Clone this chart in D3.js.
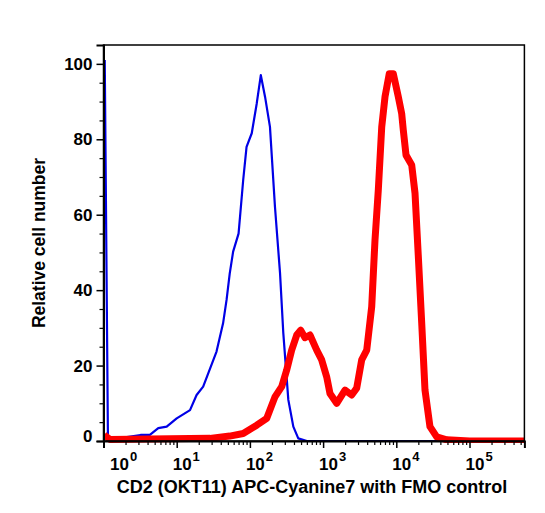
<!DOCTYPE html>
<html>
<head>
<meta charset="utf-8">
<script src="https://cdn.jsdelivr.net/npm/d3@7"></script>
<style>
body { margin: 0; background: #fff; }
svg text { font-family: "Liberation Sans", Arial, sans-serif; font-weight: bold; fill: #000; }
</style>
</head>
<body>
<div class="chart"></div>
<script>
var width = 545;
var height = 513;

// FMO control (blue), fluorescence intensity vs relative count
var fmoX = [1.04, 1.15, 1.68, 3.2, 4.3, 5.6, 7.3, 10, 15.2, 18.7, 23, 35, 43, 48, 53, 59, 70, 81, 90, 106, 124, 141, 161, 188, 220, 258, 286, 335, 392, 458, 600, 1000, 10000, 100000, 562000];
var fmoY = [101, 0.7, 0.8, 1.6, 1.6, 3.4, 3.8, 6.0, 8.2, 12.2, 14.4, 23.7, 31.2, 37.4, 44.4, 50.2, 55.0, 69.2, 78.0, 81.6, 89.5, 97.0, 91.3, 83.3, 62.1, 44.5, 28.6, 10.9, 3.8, 0.7, 0, 0, 0, 0, 0];

// CD2 stained sample (red)
var cd2X = [1.02, 1.23, 28.5, 53, 81, 124, 170, 220, 272, 318, 372, 436, 494, 566, 662, 818, 957, 1120, 1242, 1534, 1992, 2459, 2878, 3367, 3944, 4613, 5117, 5675, 6324, 7015, 8020, 9100, 10650, 11850, 12470, 13580, 16230, 18020, 20000, 22250, 24660, 28840, 35650, 48860, 100000, 562000];
var cd2Y = [1.6, 0.4, 0.7, 1.3, 2.0, 4.2, 6.0, 11.7, 14.4, 18.8, 24.1, 28.1, 29.4, 27.4, 28.1, 24.1, 21.5, 17.0, 12.6, 10.0, 13.5, 12.2, 14.0, 21.5, 24.1, 35.6, 53.3, 66.5, 83.3, 91.3, 97.4, 97.4, 91.3, 86.8, 82.4, 75.8, 73.2, 65.7, 48.9, 31.2, 13.5, 3.8, 1.1, 0.3, 0, 0];

var yTicks = [0, 20, 40, 60, 80, 100];
var yMinor = [5, 10, 15, 25, 30, 35, 45, 50, 55, 65, 70, 75, 85, 90, 95];
var xTicks = [1, 10, 100, 1000, 10000, 100000];
var xExp = ["0", "1", "2", "3", "4", "5"];

var xTitle = "CD2 (OKT11) APC-Cyanine7 with FMO control";
var yTitle = "Relative cell number";

var svg = d3.select(".chart").append("svg")
  .attr("width", width)
  .attr("height", height)
  .style("display", "block");

var x = d3.scaleLog()
  .domain([1, Math.pow(10, 5.75)])
  .range([103.5, 524.4]);

var y = d3.scaleLinear()
  .domain([0, 105])
  .range([441, 45]);

var xMinor = [];
for (var e = 0; e < 6; e++) {
  for (var m = 2; m < 10; m++) {
    var v = m * Math.pow(10, e);
    if (v < x.domain()[1]) xMinor.push(v);
  }
}

svg.append("clipPath").attr("id", "plot-clip")
  .append("rect")
  .attr("x", x.range()[0])
  .attr("y", y.range()[1])
  .attr("width", x.range()[1] - x.range()[0])
  .attr("height", 443 - y.range()[1]);

var line = d3.line()
  .x(function(d) { return x(d[0]); })
  .y(function(d) { return y(d[1]); });

var plot = svg.append("g").attr("clip-path", "url(#plot-clip)");

plot.append("path")
  .datum(d3.zip(fmoX, fmoY))
  .attr("fill", "none")
  .attr("stroke", "#0000e6")
  .attr("stroke-width", 2.2)
  .attr("stroke-linejoin", "round")
  .attr("d", line);

plot.append("path")
  .datum(d3.zip(cd2X, cd2Y))
  .attr("fill", "none")
  .attr("stroke", "#ff0000")
  .attr("stroke-width", 7)
  .attr("stroke-linejoin", "round")
  .attr("d", line);

// frame (top + right)
svg.append("rect")
  .attr("x", x.range()[0])
  .attr("y", y.range()[1])
  .attr("width", x.range()[1] - x.range()[0])
  .attr("height", y.range()[0] - y.range()[1])
  .attr("fill", "none")
  .attr("stroke", "#000")
  .attr("stroke-width", 1.5);

// y axis
var yAxis = svg.append("g")
  .attr("transform", "translate(" + x.range()[0] + ",0)")
  .call(d3.axisLeft(y).tickValues(yTicks).tickSize(7).tickPadding(4));
yAxis.select(".domain").attr("stroke-width", 2);
yAxis.selectAll(".tick line").attr("stroke-width", 1.5);
yAxis.selectAll("text")
  .style("font-size", "17px")
  .attr("dy", function(d) { return d === 0 ? "0.05em" : "0.32em"; });

svg.append("g")
  .attr("transform", "translate(" + x.range()[0] + ",0)")
  .call(d3.axisLeft(y).tickValues(yMinor).tickSize(4).tickFormat(""))
  .call(function(g) { g.select(".domain").remove(); })
  .selectAll(".tick line").attr("stroke-width", 1.2);

// x axis
var xAxis = svg.append("g")
  .attr("transform", "translate(0," + y.range()[0] + ")")
  .call(d3.axisBottom(x).tickValues(xTicks).tickSize(7).tickFormat(""));
xAxis.select(".domain").attr("stroke-width", 2);
xAxis.selectAll(".tick line").attr("stroke-width", 1.5);

svg.append("g")
  .attr("transform", "translate(0," + y.range()[0] + ")")
  .call(d3.axisBottom(x).tickValues(xMinor).tickSize(4).tickFormat(""))
  .call(function(g) { g.select(".domain").remove(); })
  .selectAll(".tick line").attr("stroke-width", 1.2);

var xl = svg.append("g").selectAll("text")
  .data(xTicks)
  .enter().append("text")
  .attr("x", function(d) { return Math.max(x(d) - 4, 110); })
  .attr("y", 470)
  .style("font-size", "17px");
xl.append("tspan").text("10");
xl.append("tspan")
  .attr("dx", 1)
  .attr("dy", -9)
  .style("font-size", "13px")
  .text(function(d, i) { return xExp[i]; });

svg.append("text")
  .attr("x", 312)
  .attr("y", 493)
  .attr("text-anchor", "middle")
  .style("font-size", "18px")
  .text(xTitle);

svg.append("text")
  .attr("transform", "translate(45,243) rotate(-90)")
  .attr("text-anchor", "middle")
  .style("font-size", "17.5px")
  .text(yTitle);
</script>
</body>
</html>
